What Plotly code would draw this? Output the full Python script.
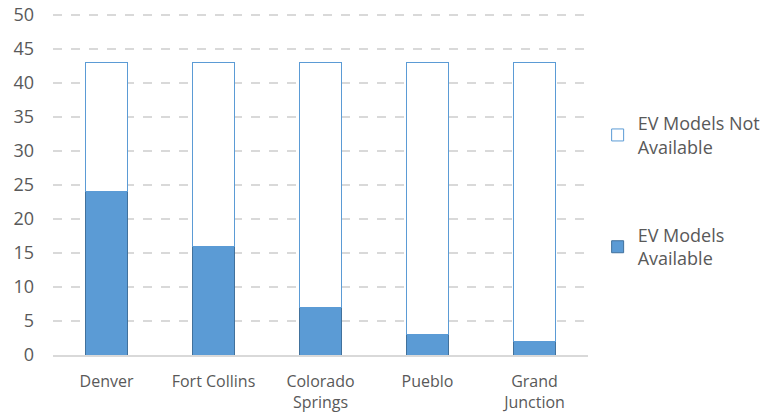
import plotly.graph_objects as go

cities = ["Denver", "Fort Collins", "Colorado<br>Springs", "Pueblo", "Grand<br>Junction"]
models_available = [24, 16, 7, 3, 2]
models_not_available = [19, 27, 36, 40, 41]

fig = go.Figure()
fig.add_trace(go.Bar(
    x=cities, y=models_available,
    name="EV Models<br>Available", legendgroup="avail", legendrank=2,
    marker=dict(color="#5b9bd5", line=dict(color="#41719c", width=1)),
    width=0.4,
))
fig.add_trace(go.Bar(
    x=cities, y=models_not_available,
    name="EV Models Not<br>Available", legendgroup="notavail", legendrank=1,
    marker=dict(color="#ffffff", line=dict(color="#5b9bd5", width=1)),
    width=0.4,
))

font_family = "Open Sans, DejaVu Sans, sans-serif"
fig.update_layout(
    barmode="stack",
    width=763, height=412,
    margin=dict(l=53, r=175, t=14, b=57, autoexpand=False),
    paper_bgcolor="white", plot_bgcolor="white",
    font=dict(family=font_family, size=16, color="#595959"),
    showlegend=True,
    legend=dict(
        x=1.018, y=0.733, xanchor="left", yanchor="top",
        traceorder="grouped", tracegroupgap=62,
        font=dict(size=18, color="#595959"),
        itemwidth=30,
    ),
    xaxis=dict(
        showgrid=False, showline=True, linecolor="#d9d9d9", linewidth=2,
        ticks="", tickfont=dict(size=16, color="#595959"),
        ticklabelstandoff=11, automargin=False,
    ),
    yaxis=dict(
        range=[0, 50.15], dtick=5,
        showgrid=True, gridcolor="#d9d9d9", griddash="dash", gridwidth=1.5,
        zeroline=False, showline=False, ticks="",
        tickfont=dict(size=18, color="#595959"),
        ticklabelstandoff=18, automargin=False,
    ),
)

fig.write_html("out.html")
